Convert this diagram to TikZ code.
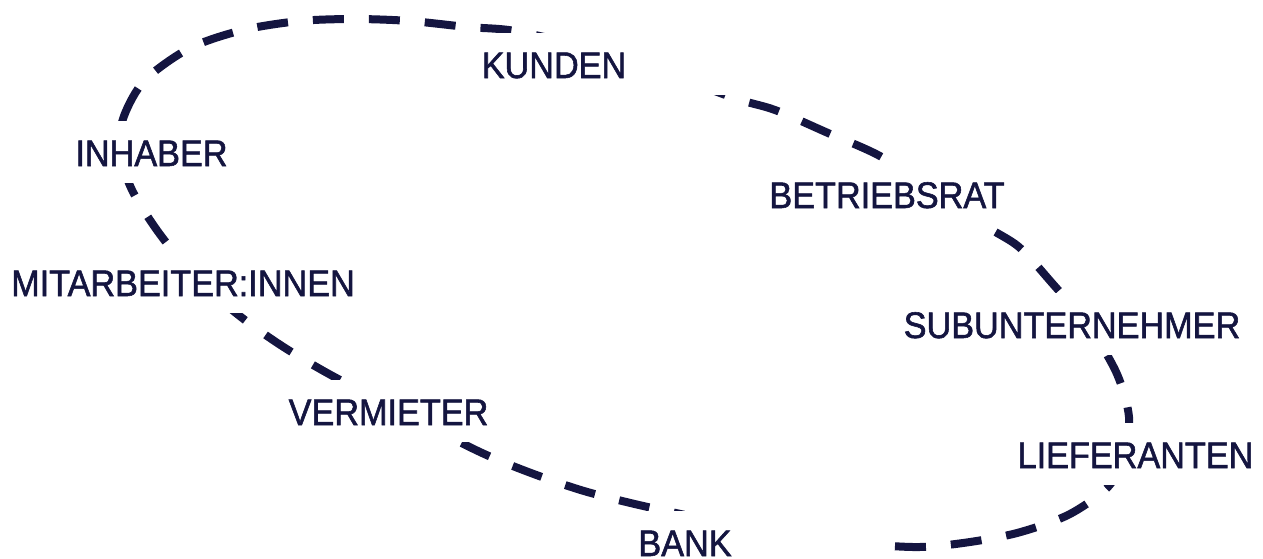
\documentclass[tikz,border=0pt]{standalone}
\usepackage{fontspec}
\setmainfont{Liberation Sans}[FakeStretch=0.925,FakeBold=1.5]
\definecolor{navy}{RGB}{20,21,64}
\begin{document}
\begin{tikzpicture}[x=1pt,y=-1pt,
  loopline/.style={draw=navy, line width=8pt, dash pattern=on 31pt off 25pt},
  lbl/.style={fill=white, text=navy, font=\fontsize{37}{40}\selectfont,
    inner xsep=6pt, inner ysep=17pt, text height=28pt, text depth=0pt, anchor=base}]
\useasboundingbox (0,0) rectangle (1263,558);
\draw[loopline] plot[smooth cycle] coordinates {
 (119,150) (124,116) (145,80) (190,48) (243,30) (300,21) (355,19) (410,21)
 (467,27) (521,32) (625,58) (731,97) (775,110) (828,133) (878,155) (932,188)
 (984,225) (1019,247) (1052,283) (1090,328) (1117,374) (1129,417) (1124,458)
 (1107,488) (1068,515) (1017,533) (963,543) (913,547) (830,541) (760,530)
 (700,518) (639,505) (584,491) (531,473) (480,452) (405,414) (329,374)
 (282,346) (241,317) (197,279) (159,233) (132,190)};
\fill[white] (554,33) rectangle (745,95);
\fill[white] (685,510) rectangle (890,558);
\node[lbl] (kunden) at (554,78) {KUNDEN};
\node[lbl] (inhaber) at (151.5,166) {INHABER};
\node[lbl] (mitarb) at (183,296) {MITARBEITER:INNEN};
\node[lbl] (vermieter) at (388.5,425) {VERMIETER};
\node[lbl] (bank) at (685,556) {BANK};
\node[lbl] (betriebsrat) at (887,208) {BETRIEBSRAT};
\node[lbl] (subunt) at (1072,338) {SUBUNTERNEHMER};
\node[lbl] (lieferanten) at (1135.5,468) {LIEFERANTEN};
\end{tikzpicture}
\end{document}
